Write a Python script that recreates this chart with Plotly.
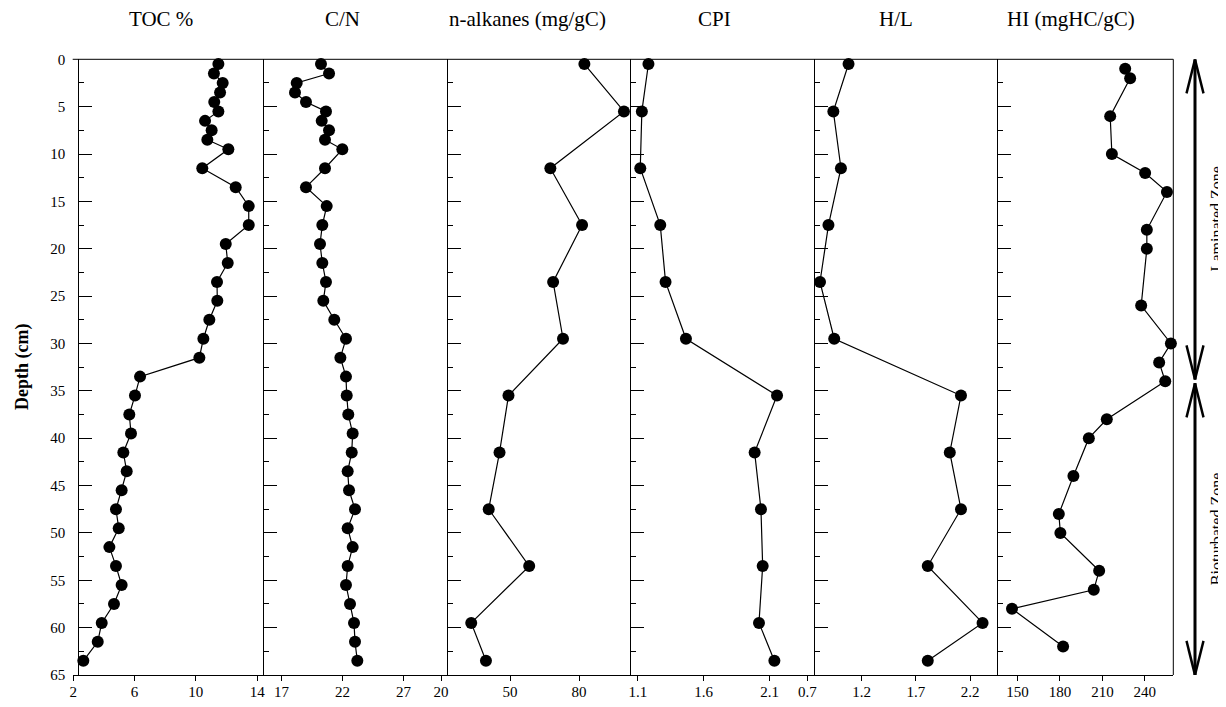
import plotly.graph_objects as go

# The page body adds an 8 px margin, so the figure is drawn 8 px smaller
# and every pixel position below is expressed in window pixels minus OFF.
OFF = 8
W, H = 1226 - OFF, 707 - OFF

# ---------------- data ----------------
titles = ["TOC %", "C/N", "n-alkanes (mg/gC)", "CPI", "H/L", "HI (mgHC/gC)"]

depth_a = [0.5, 1.5, 2.5, 3.5, 4.5, 5.5, 6.5, 7.5, 8.5, 9.5,
           11.5, 13.5, 15.5, 17.5, 19.5, 21.5, 23.5, 25.5, 27.5, 29.5, 31.5,
           33.5, 35.5, 37.5, 39.5, 41.5, 43.5, 45.5, 47.5, 49.5, 51.5, 53.5,
           55.5, 57.5, 59.5, 61.5, 63.5]
toc = [11.47, 11.18, 11.75, 11.58, 11.2, 11.47, 10.6, 11.03, 10.75, 12.12,
       10.42, 12.6, 13.45, 13.45, 11.95, 12.08, 11.38, 11.4, 10.88, 10.49, 10.23,
       6.36, 6.03, 5.66, 5.77, 5.27, 5.49, 5.16, 4.79, 4.97, 4.36, 4.79,
       5.16, 4.66, 3.86, 3.6, 2.66]
cn = [20.23, 20.89, 18.24, 18.1, 19.0, 20.64, 20.29, 20.89, 20.56, 21.98,
      20.56, 19.0, 20.7, 20.34, 20.15, 20.34, 20.64, 20.42, 21.32, 22.28, 21.82,
      22.28, 22.34, 22.47, 22.83, 22.75, 22.42, 22.53, 23.02, 22.42, 22.83, 22.42,
      22.28, 22.61, 22.94, 23.02, 23.21]

depth_b = [0.5, 5.5, 11.5, 17.5, 23.5, 29.5, 35.5, 41.5, 47.5, 53.5, 59.5, 63.5]
nalk = [82.3, 99.5, 67.5, 81.3, 68.7, 73.0, 49.3, 45.4, 40.7, 58.3, 33.1, 39.5]
cpi = [1.18, 1.13, 1.118, 1.27, 1.31, 1.465, 2.157, 1.987, 2.035, 2.048, 2.02, 2.137]
hl = [1.08, 0.94, 1.01, 0.895, 0.817, 0.948, 2.116, 2.013, 2.116, 1.81, 2.315, 1.81]

depth_hi = [1, 2, 6, 10, 12, 14, 18, 20, 26, 30, 32, 34, 38, 40, 44, 48, 50,
            54, 56, 58, 62]
hi = [226.1, 229.6, 215.5, 216.7, 240.2, 255.6, 241.4, 241.4, 237.4, 258.4,
      250.1, 254.4, 213.1, 200.4, 189.5, 179.2, 180.3, 207.7, 203.9, 146.1, 182.2]

tick_toc = [2, 6, 10, 14]
tick_cn = [17, 22, 27]
tick_nalk = [20, 50, 80]
tick_cpi = [1.1, 1.6, 2.1]
tick_hl = [0.7, 1.2, 1.7, 2.2]
tick_hi = [150, 180, 210, 240]
depth_ticks = [0, 5, 10, 15, 20, 25, 30, 35, 40, 45, 50, 55, 60, 65]

zones = [("Laminated Zone", 0, 33.8), ("Bioturbated Zone", 34.2, 65)]

# ---------------- layout geometry (window pixels) ----------------
FONT = "Liberation Serif"
y_top_px, y_bot_px = 59.3, 675.0
borders_px = [78.3, 263.3, 446.7, 630.0, 814.0, 997.0, 1173.3]
xdom_px = [(73.2, 263.3), (263.3, 446.7), (441.1, 630.0),
           (630.0, 814.0), (807.3, 997.0), (997.0, 1173.3)]
xranges = [(2, 14.4), (15.5, 30.54), (20, 102.13),
           (1.04, 2.438), (0.7, 2.448), (135.5, 260.1)]
title_x_px = [161, 342, 527, 714, 896, 1071]


def px(x):
    return (x - OFF) / W


def py(y):
    return 1 - (y - OFF) / H


series = [(toc, depth_a, tick_toc), (cn, depth_a, tick_cn),
          (nalk, depth_b, tick_nalk), (cpi, depth_b, tick_cpi),
          (hl, depth_b, tick_hl), (hi, depth_hi, tick_hi)]

fig = go.Figure()
layout = dict(
    width=W, height=H, autosize=False,
    margin=dict(l=0, r=0, t=0, b=0, pad=0),
    paper_bgcolor="white", plot_bgcolor="rgba(0,0,0,0)",
    showlegend=False,
    font=dict(family=FONT, color="black", size=15),
)

ydom = [py(y_bot_px), py(y_top_px)]
for i, (vals, dep, tv) in enumerate(series):
    n = "" if i == 0 else str(i + 1)
    fig.add_trace(go.Scatter(
        x=vals, y=dep, xaxis="x" + n, yaxis="y" + n,
        mode="lines+markers",
        line=dict(color="black", width=1.2),
        marker=dict(color="black", size=12),
        cliponaxis=False,
    ))
    layout["xaxis" + n] = dict(
        domain=[px(xdom_px[i][0]), px(xdom_px[i][1])],
        range=list(xranges[i]), anchor="y" + n,
        tickmode="array", tickvals=tv,
        ticks="outside", ticklen=5, tickcolor="black", tickwidth=1,
        showline=True, linecolor="black", linewidth=1,
        showgrid=False, zeroline=False, automargin=False,
        tickfont=dict(family=FONT, size=15, color="black"),
        ticklabelstandoff=-2,
    )
    layout["yaxis" + n] = dict(
        domain=ydom, range=[65, 0], anchor="free",
        position=px(borders_px[i]),
        tickmode="array", tickvals=depth_ticks,
        ticks="inside", ticklen=13, tickcolor="black", tickwidth=1,
        minor=dict(dtick=2.5, tick0=0, ticks="inside", ticklen=5,
                   tickcolor="black", tickwidth=1),
        showline=True, linecolor="black", linewidth=1,
        showgrid=False, zeroline=False, automargin=False,
        showticklabels=(i == 0),
        tickfont=dict(family=FONT, size=15, color="black"),
        ticklabelstandoff=10,
    )

fig.update_layout(**layout)

shapes = []
# top frame line and right border
shapes.append(dict(type="line", xref="paper", yref="paper",
                   x0=px(72.7), x1=px(borders_px[-1]), y0=py(y_top_px), y1=py(y_top_px),
                   line=dict(color="black", width=1)))
shapes.append(dict(type="line", xref="paper", yref="paper",
                   x0=px(borders_px[-1]), x1=px(borders_px[-1]), y0=py(y_top_px), y1=py(y_bot_px),
                   line=dict(color="black", width=1)))

annotations = []
for t, xc in zip(titles, title_x_px):
    annotations.append(dict(text=t, x=px(xc), y=py(19), xref="paper", yref="paper",
                            showarrow=False, xanchor="center", yanchor="middle",
                            font=dict(family=FONT, size=21, color="black")))

# y-axis title
annotations.append(dict(text="<b>Depth (cm)</b>", x=px(22), y=py(367),
                        xref="paper", yref="paper", showarrow=False,
                        textangle=-90, xanchor="center", yanchor="middle",
                        font=dict(family=FONT, size=18, color="black")))

# zone arrows
ax_px = 1195
head_len_cm = 3.6
head_half_px = 8.5
for label, d0, d1 in zones:
    shapes.append(dict(type="line", xref="paper", yref="y6",
                       x0=px(ax_px), x1=px(ax_px), y0=d0, y1=d1,
                       line=dict(color="black", width=3)))
    for tip, back in [(d0, d0 + head_len_cm), (d1, d1 - head_len_cm)]:
        for s in (-1, 1):
            shapes.append(dict(type="line", xref="paper", yref="y6",
                               x0=px(ax_px), x1=px(ax_px + s * head_half_px),
                               y0=tip, y1=back,
                               line=dict(color="black", width=2.5)))
    annotations.append(dict(text=label, x=px(1216), y=(d0 + d1) / 2,
                            xref="paper", yref="y6", showarrow=False,
                            textangle=-90, xanchor="center", yanchor="middle",
                            font=dict(family=FONT, size=16, color="black")))

fig.update_layout(shapes=shapes, annotations=annotations)

# hide page scrollbars so the full width of the figure stays visible
fig.write_html(
    "out.html",
    post_script="document.documentElement.style.overflow='hidden';"
                "document.body.style.overflow='hidden';",
)
